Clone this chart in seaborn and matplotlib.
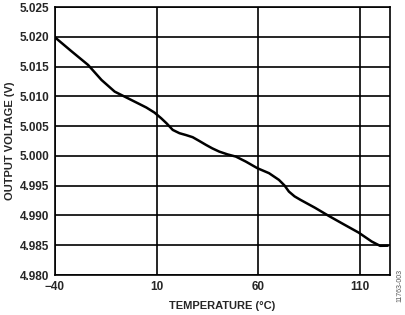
import matplotlib
matplotlib.use("Agg")
import matplotlib.pyplot as plt
import seaborn as sns
import pandas as pd

temperature = [-40, -32, -23.7, -17.1, -10.6, -5.7, 0.8, 5, 9.0, 12.3, 15, 18, 21.3, 24.5, 27.8, 31, 34.4, 37.5,
               40.9, 45, 49.1, 54, 59.7, 65.4, 70.3, 73, 75.2, 78, 80.9, 88, 94.8, 102, 109.5, 116, 120.1, 123.9]
voltage = [5.0199, 5.0176, 5.01527, 5.01275, 5.01079, 5.00995, 5.00884, 5.00812, 5.00727, 5.00632, 5.00545, 5.00436, 5.00381, 5.00350,
           5.00314, 5.00252, 5.00184, 5.00126, 5.00072, 5.00025, 4.99988, 4.99904, 4.99793, 4.99710, 4.99597, 4.99505,
           4.99401, 4.99320, 4.99262, 4.99130, 4.98993, 4.98855, 4.98713, 4.98562, 4.98490, 4.98492]
x_ticks = [-40, 10, 60, 110]
x_tick_labels = ["\u221240", "10", "60", "110"]
y_ticks = [4.980, 4.985, 4.990, 4.995, 5.000, 5.005, 5.010, 5.015, 5.020, 5.025]

df = pd.DataFrame({"temperature": temperature, "voltage": voltage})

sns.set_style("white")
plt.rcParams['font.family'] = ['Liberation Sans', 'DejaVu Sans']

fig = plt.figure(figsize=(4.06, 3.15), dpi=100)
ax = fig.add_axes([55/406, 1-275/315, 335/406, 268/315])
sns.lineplot(data=df, x="temperature", y="voltage", ax=ax, color="black", linewidth=1.8)
ax.lines[0].set_solid_joinstyle("round")
ax.set_xlim(-40, 125)
ax.set_ylim(4.980, 5.025)
ax.set_xticks(x_ticks)
ax.set_xticklabels(x_tick_labels)
ax.set_yticks(y_ticks)
ax.set_yticklabels([f"{v:.3f}" for v in y_ticks])
ax.grid(True, color="black", linewidth=1.2)
for s in ax.spines.values():
    s.set_color("black")
    s.set_linewidth(1.2)
ax.tick_params(axis="both", length=0, labelsize=8.5, pad=4)
for lab in ax.get_xticklabels() + ax.get_yticklabels():
    lab.set_fontweight("bold")
ax.set_xlabel("TEMPERATURE (°C)", fontsize=8, fontweight="bold", labelpad=6)
ax.set_ylabel("OUTPUT VOLTAGE (V)", fontsize=8, fontweight="bold", labelpad=3.5)
fig.text(0.985, 0.04, "11763-003", rotation=90, fontsize=5, color="#555555", ha="center", va="bottom")
fig.savefig("out.png", dpi=100)
